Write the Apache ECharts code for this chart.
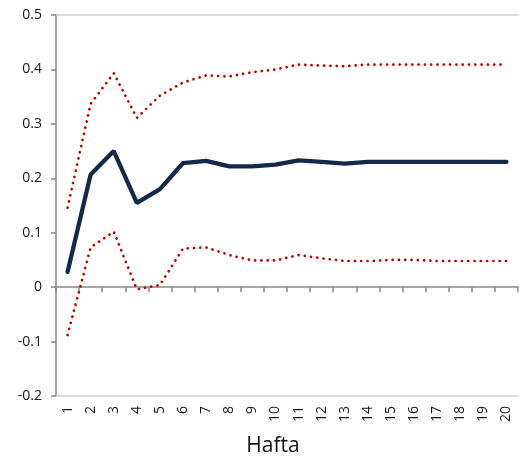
<!DOCTYPE html>
<html><head><meta charset="utf-8">
<script src="https://cdn.jsdelivr.net/npm/echarts@6/dist/echarts.min.js"></script>
<style>html,body{margin:0;padding:0;background:#fff}#c{width:519px;height:462px}</style>
</head><body><div id="c"></div>
<script>
const categories = ['1','2','3','4','5','6','7','8','9','10','11','12','13','14','15','16','17','18','19','20'];
const response = [0.028,0.207,0.250,0.155,0.180,0.228,0.232,0.222,0.222,0.225,0.233,0.230,0.227,0.230,0.230,0.230,0.230,0.230,0.230,0.230];
const upper = [0.146,0.337,0.393,0.311,0.352,0.376,0.389,0.387,0.395,0.400,0.409,0.407,0.406,0.409,0.409,0.409,0.409,0.409,0.409,0.409];
const lower = [-0.088,0.073,0.102,-0.004,0.004,0.071,0.073,0.059,0.049,0.049,0.059,0.053,0.048,0.048,0.050,0.050,0.048,0.048,0.048,0.048];
const yTicks = {min:-0.2, max:0.5, interval:0.1};

const chart = echarts.init(document.getElementById('c'));
const font = '"Open Sans", "Noto Sans", sans-serif';
const dotted = {color:'#c00000', width:2.7, type:[0.1,6.2], cap:'round'};
chart.setOption({
  animation:false,
  grid:{left:56, right:1, top:15, bottom:64},
  xAxis:[
    {type:'category', data:categories, position:'bottom',
     axisLine:{onZero:false, lineStyle:{color:'#d0d0d0', width:1.5}},
     axisTick:{show:false},
     axisLabel:{rotate:90, margin:10, color:'#1a1a1a', fontSize:14, fontFamily:font},
     name:'Hafta', nameLocation:'middle', nameGap:40,
     nameTextStyle:{color:'#111', fontSize:21, fontFamily:font, padding:[0,28,0,0]}},
    {type:'category', data:categories, position:'top',
     axisLine:{onZero:true, lineStyle:{color:'#868686', width:1.5}},
     axisTick:{show:true, inside:true, length:5, lineStyle:{color:'#868686', width:1.5}},
     axisLabel:{show:false}},
    {type:'category', data:categories, position:'top',
     axisLine:{onZero:false, lineStyle:{color:'#d0d0d0', width:1.5}},
     axisTick:{show:false}, axisLabel:{show:false}}
  ],
  yAxis:{type:'value', min:yTicks.min, max:yTicks.max, interval:yTicks.interval,
    axisLine:{show:true, lineStyle:{color:'#868686', width:1.5}},
    axisTick:{show:true, length:5, lineStyle:{color:'#868686', width:1.5}},
    splitLine:{show:false},
    axisLabel:{color:'#1a1a1a', fontSize:14, fontFamily:font, margin:14,
      formatter:v=>{const r=Math.round(v*10)/10; return r===0?'0':String(r);}}},
  series:[
    {type:'line', data:upper, symbol:'none', lineStyle:dotted, z:2},
    {type:'line', data:lower, symbol:'none', lineStyle:dotted, z:2},
    {type:'line', data:response, symbol:'none', lineStyle:{color:'#16284a', width:4.3, cap:'round'}, z:3}
  ]
});
</script></body></html>
